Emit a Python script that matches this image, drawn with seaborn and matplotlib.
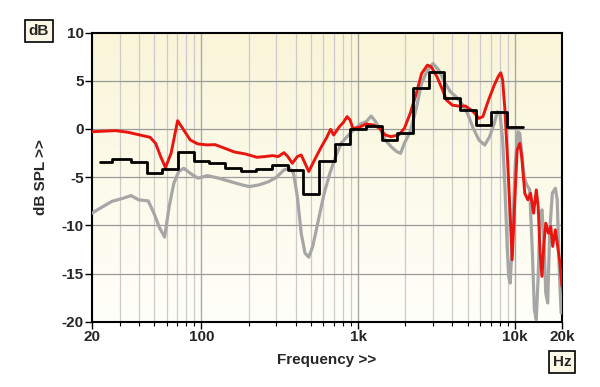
import numpy as np
import pandas as pd
import matplotlib
matplotlib.use("Agg")
import matplotlib.pyplot as plt
import seaborn as sns
from matplotlib.ticker import FixedLocator, NullFormatter

# measured response, red trace (Hz, dB)
red_freq = [20, 28.3, 34, 37.5, 47, 51, 55, 58.9, 64, 70.4, 77, 84.8, 94.8, 109, 122, 144.6,
            162, 191, 226, 253, 284, 309, 336, 356, 380, 409, 433, 458, 484, 527, 583, 631,
            667, 698, 759, 803, 850, 889, 925, 1005, 1125, 1259, 1371, 1490, 1622, 1816,
            1974, 2149, 2336, 2543, 2767, 2926, 3186, 3462, 3662, 3985, 4336, 4852, 5430,
            5907, 6250, 6799, 7395, 7821, 8134, 8365, 8650, 8996, 9354, 9620, 9890, 10350,
            10760, 11070, 11580, 12110, 12600, 13180, 13710, 14100, 14500, 14910, 15340,
            15770, 16400, 16970, 17450, 18150, 18660, 19410, 20000]
red_db = [-0.28, -0.17, -0.34, -0.5, -0.86, -1.5, -2.9, -4.0, -2.5, 0.86, -0.1, -1.14, -1.55,
          -1.65, -1.62, -2.07, -2.38, -2.59, -2.93, -2.86, -2.76, -2.86, -2.45, -2.86, -3.55,
          -2.86, -2.69, -3.55, -4.41, -3.2, -1.83, -0.86, -0.03, -0.62, 0.24, 0.66, 1.28, 0.93,
          0.07, 0.14, 0.52, 0.41, 0.07, -0.62, -0.79, -0.62, 0.07, 1.62, 3.52, 5.76, 6.62,
          6.45, 5.41, 4.03, 3.0, 2.48, 2.38, 2.38, 1.79, 1.1, 1.28, 3.0, 4.55, 5.41, 5.83,
          5.07, 1.97, -3.2, -9.07, -13.55, -9.07, -2.17, -1.48, -2.86, -6.66, -7.34, -6.66,
          -8.72, -6.31, -8.03, -12.86, -15.28, -11.83, -9.76, -10.8, -10.1, -12.17, -10.45,
          -11.83, -13.9, -16.3]

# reference trace, gray (Hz, dB)
gray_freq = [20, 22.6, 26.8, 31.7, 35.5, 39.7, 45.7, 49.7, 54.1, 58.2, 62.2, 66.6, 71.6, 77,
             84.8, 94.8, 109, 129, 153, 181, 203, 233, 269, 301, 336, 366, 387, 409, 433, 458,
             484, 513, 558, 607, 660, 718, 780, 850, 925, 1035, 1125, 1211, 1280, 1371, 1490,
             1622, 1763, 1866, 1974, 2149, 2336, 2543, 2767, 3006, 3273, 3557, 3875, 4217,
             4584, 4989, 5430, 5907, 6427, 6910, 7395, 7731, 8040, 8365, 8650, 8940, 9140,
             9354, 9680, 10070, 10470, 10760, 11070, 11460, 11910, 12450, 12950, 13330, 13710,
             14100, 14500, 14910, 15340, 15770, 16220, 16680, 17360, 18150, 18660, 19190, 19760]
gray_db = [-8.72, -8.2, -7.5, -7.17, -6.9, -7.34, -7.45, -8.72, -10.28, -11.2, -8.03, -5.62,
           -4.41, -4.07, -4.59, -5.1, -4.83, -5.1, -5.45, -5.79, -5.97, -5.79, -5.45, -5.0,
           -4.24, -4.07, -4.59, -7.0, -10.8, -12.86, -13.28, -12.17, -9.41, -6.66, -4.59,
           -2.86, -1.48, -0.79, -0.17, 0.52, 0.76, 1.34, 0.86, 0.07, -1.14, -1.83, -2.34,
           -2.52, -1.48, -0.28, 1.97, 4.72, 6.1, 6.79, 6.1, 4.9, 3.86, 3.34, 2.66, 1.62, 0.07,
           -1.14, -1.66, -0.79, 0.59, 1.79, 1.62, -1.14, -5.97, -12.17, -15.28, -15.97, -10.8,
           -3.55, -0.28, -0.45, -2.52, -4.93, -5.79, -6.31, -12.86, -18.72, -19.76, -15.28,
           -9.07, -8.38, -11.48, -17.0, -18.03, -10.8, -6.66, -6.14, -7.34, -14.24, -19.07]

# 1/3-octave averaged response, black step (band lower edges, level)
band_edges = [22.4, 27, 35.5, 44.7, 56.2, 70.8, 89.1, 112, 141, 178, 224, 282, 355, 447, 562,
              708, 891, 1122, 1413, 1778, 2239, 2818, 3548, 4467, 5623, 7079, 8913, 11220]
band_db = [-3.39, -3.14, -3.45, -4.56, -4.18, -2.35, -3.28, -3.49, -4.07, -4.32, -4.18, -3.76,
           -4.25, -6.77, -3.32, -1.59, -0.03, 0.31, -1.14, -0.38, 4.22, 5.88, 3.24, 1.97, 0.41,
           1.73, 0.24]

sns.set_theme(style="white")
plt.rcParams["font.family"] = ["Liberation Sans", "DejaVu Sans"]
plt.rcParams["font.weight"] = "bold"

fig = plt.figure(figsize=(6, 3.87), dpi=100)
ax = fig.add_axes([0.1533, 0.168, 0.7833, 0.748])

# pale yellow gradient background
top = np.array([250, 245, 216]) / 255
bot = np.array([255, 255, 250]) / 255
t = np.linspace(0, 1, 256)[:, None]
grad = (top * (1 - t) + bot * t)[:, None, :]
ax.imshow(grad, extent=[0, 1, 0, 1], transform=ax.transAxes, aspect="auto", zorder=0)

ax.set_xscale("log")
ax.set_xlim(20, 20000)
ax.set_ylim(-20, 10)

# grid
minor = [m * 10 ** e for e in range(1, 5) for m in range(2, 10) if 20 <= m * 10 ** e <= 20000]
for f in minor:
    ax.axvline(f, color="#cbcbcb", lw=0.9, zorder=1)
for f in [100, 1000, 10000]:
    ax.axvline(f, color="#a8a8a8", lw=1.0, zorder=1)
for y in range(-15, 10, 5):
    ax.axhline(y, color="#9a9a9a", lw=0.9, zorder=1)

red = pd.DataFrame({"f": red_freq, "db": red_db})
gray = pd.DataFrame({"f": gray_freq, "db": gray_db})
steps = pd.DataFrame({"f": band_edges, "db": band_db + [band_db[-1]]})

sns.lineplot(data=gray, x="f", y="db", color="#a6a6a6", lw=2.3, sort=False, ax=ax, zorder=3)
sns.lineplot(data=red, x="f", y="db", color="#e8160f", lw=2.1, sort=False, ax=ax, zorder=4)
sns.lineplot(data=steps, x="f", y="db", color="black", lw=2.0, sort=False,
             drawstyle="steps-post", ax=ax, zorder=5)

ax.xaxis.set_major_locator(FixedLocator([20, 100, 1000, 10000, 20000]))
ax.xaxis.set_minor_locator(FixedLocator(minor))
ax.xaxis.set_minor_formatter(NullFormatter())
ax.set_xticklabels(["20", "100", "1k", "10k", "20k"])
ax.set_yticks([10, 5, 0, -5, -10, -15, -20])
ax.set_yticklabels(["10", "5", "0", "-5", "-10", "-15", "-20"])
ax.tick_params(axis="both", which="major", direction="out", length=5, width=1,
               labelsize=11, pad=1, color="black", bottom=True, left=True)
ax.tick_params(axis="x", which="minor", direction="out", length=3, width=0.8,
               color="black", bottom=True)
for lab in ax.get_xticklabels() + ax.get_yticklabels():
    lab.set_fontweight("bold")

for s in ax.spines.values():
    s.set_color("black")
    s.set_linewidth(1.5)

ax.set_xlabel("Frequency >>", fontsize=11, fontweight="bold", labelpad=6)
ax.set_ylabel("dB SPL >>", fontsize=11, fontweight="bold", labelpad=10)

box = dict(boxstyle="square,pad=0.25", fc="#fbf9e6", ec="black", lw=1.2)
fig.text(39 / 600, 1 - 31 / 387, "dB", ha="center", va="center", fontsize=11,
         fontweight="bold", bbox=box)
fig.text(562 / 600, 1 - 362 / 387, "Hz", ha="center", va="center", fontsize=11,
         fontweight="bold", bbox=box)

fig.savefig("out.png", dpi=100, facecolor="white")
